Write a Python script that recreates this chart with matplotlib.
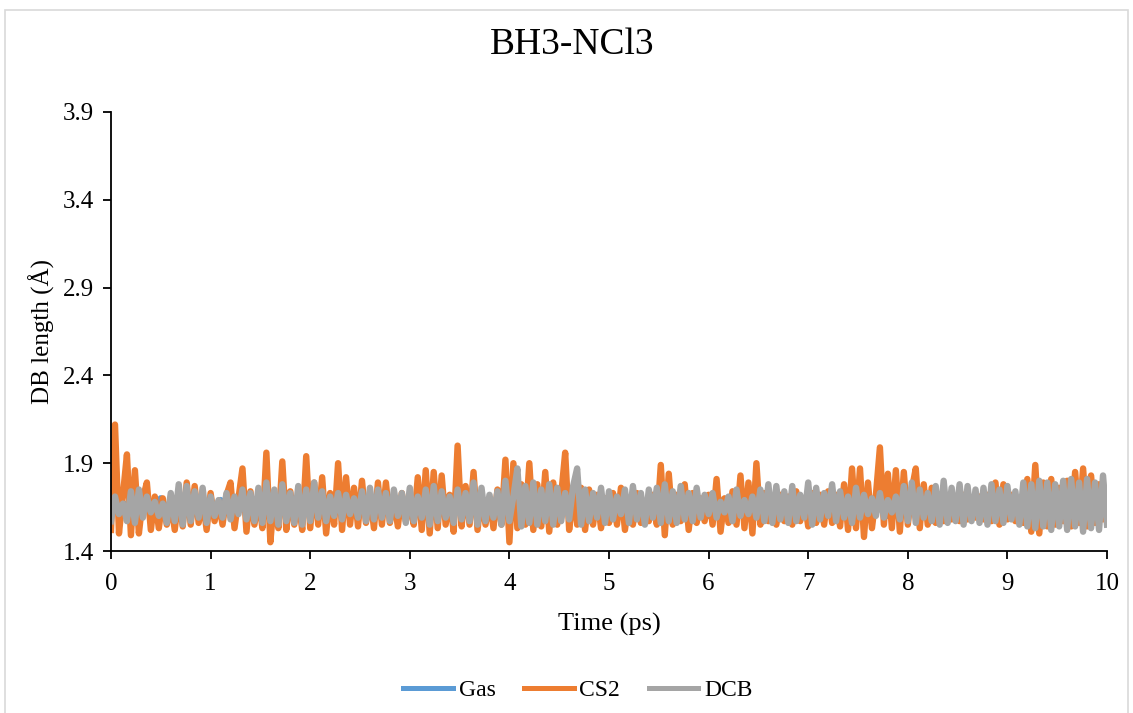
import numpy as np
import matplotlib
matplotlib.use("Agg")
import matplotlib.pyplot as plt
from matplotlib.patches import Rectangle
from matplotlib.lines import Line2D

plt.rcParams['font.family'] = ['Liberation Serif', 'DejaVu Serif']

title = "BH3-NCl3"
xlabel = "Time (ps)"
ylabel = "DB length (Å)"
series_names = ["Gas", "CS2", "DCB"]
series_colors = ["#5B9BD5", "#ED7D31", "#A5A5A5"]
xticks = [0, 1, 2, 3, 4, 5, 6, 7, 8, 9, 10]
yticks = [1.4, 1.9, 2.4, 2.9, 3.4, 3.9]

cs2 = [
    1.52, 2.12, 1.50, 1.72, 1.95, 1.49, 1.86, 1.50, 1.70, 1.79,
    1.52, 1.71, 1.53, 1.70, 1.55, 1.68, 1.52, 1.72, 1.54, 1.79,
    1.55, 1.77, 1.56, 1.70, 1.52, 1.73, 1.57, 1.68, 1.55, 1.72,
    1.79, 1.53, 1.70, 1.87, 1.51, 1.74, 1.55, 1.71, 1.53, 1.96,
    1.45, 1.72, 1.53, 1.91, 1.52, 1.74, 1.55, 1.70, 1.52, 1.94,
    1.53, 1.79, 1.55, 1.82, 1.50, 1.73, 1.55, 1.90, 1.52, 1.82,
    1.55, 1.76, 1.54, 1.80, 1.56, 1.72, 1.53, 1.79, 1.55, 1.79,
    1.56, 1.70, 1.54, 1.73, 1.57, 1.68, 1.55, 1.82, 1.52, 1.86,
    1.50, 1.85, 1.53, 1.83, 1.55, 1.72, 1.51, 2.00, 1.54, 1.77,
    1.55, 1.85, 1.52, 1.72, 1.55, 1.70, 1.53, 1.75, 1.55, 1.92,
    1.45, 1.90, 1.53, 1.78, 1.55, 1.90, 1.52, 1.78, 1.54, 1.85,
    1.51, 1.79, 1.55, 1.72, 1.96, 1.52, 1.74, 1.55, 1.76, 1.52,
    1.75, 1.55, 1.72, 1.53, 1.70, 1.56, 1.73, 1.55, 1.76, 1.52,
    1.70, 1.55, 1.73, 1.56, 1.68, 1.57, 1.72, 1.55, 1.89, 1.49,
    1.84, 1.55, 1.72, 1.57, 1.78, 1.52, 1.73, 1.56, 1.70, 1.57,
    1.72, 1.55, 1.81, 1.51, 1.70, 1.56, 1.74, 1.55, 1.83, 1.53,
    1.79, 1.50, 1.90, 1.55, 1.73, 1.57, 1.70, 1.55, 1.72, 1.57,
    1.71, 1.55, 1.74, 1.57, 1.70, 1.54, 1.73, 1.56, 1.72, 1.55,
    1.74, 1.56, 1.72, 1.54, 1.78, 1.52, 1.87, 1.53, 1.87, 1.48,
    1.79, 1.53, 1.72, 1.99, 1.55, 1.84, 1.53, 1.86, 1.51, 1.85,
    1.55, 1.75, 1.87, 1.53, 1.78, 1.55, 1.76, 1.56, 1.72, 1.57,
    1.71, 1.58, 1.70, 1.57, 1.72, 1.58, 1.70, 1.59, 1.71, 1.58,
    1.72, 1.57, 1.79, 1.55, 1.78, 1.58, 1.72, 1.57, 1.70, 1.56,
    1.81, 1.51, 1.89, 1.50, 1.79, 1.54, 1.81, 1.55, 1.76, 1.57,
    1.80, 1.54, 1.85, 1.56, 1.87, 1.54, 1.83, 1.56, 1.78, 1.58, 1.70,
]

dcb = [
    1.57, 1.71, 1.61, 1.67, 1.57, 1.74, 1.56, 1.75, 1.59, 1.71,
    1.62, 1.68, 1.60, 1.67, 1.56, 1.73, 1.57, 1.78, 1.55, 1.77,
    1.57, 1.74, 1.59, 1.76, 1.56, 1.71, 1.60, 1.69, 1.59, 1.73,
    1.58, 1.71, 1.61, 1.75, 1.58, 1.73, 1.57, 1.76, 1.56, 1.79,
    1.57, 1.75, 1.55, 1.78, 1.57, 1.73, 1.56, 1.77, 1.55, 1.75,
    1.57, 1.79, 1.59, 1.74, 1.57, 1.71, 1.60, 1.73, 1.58, 1.72,
    1.61, 1.70, 1.59, 1.74, 1.57, 1.76, 1.58, 1.75, 1.59, 1.73,
    1.57, 1.75, 1.60, 1.73, 1.56, 1.76, 1.57, 1.71, 1.59, 1.75,
    1.55, 1.77, 1.57, 1.74, 1.59, 1.71, 1.56, 1.75, 1.58, 1.73,
    1.57, 1.79, 1.55, 1.76, 1.57, 1.72, 1.59, 1.74, 1.55, 1.80,
    1.57, 1.71, 1.87, 1.54, 1.77, 1.56, 1.79, 1.55, 1.75, 1.57,
    1.78, 1.55, 1.76, 1.57, 1.73, 1.58, 1.77, 1.87, 1.55, 1.75,
    1.57, 1.73, 1.59, 1.76, 1.56, 1.74, 1.58, 1.71, 1.61, 1.75,
    1.56, 1.77, 1.58, 1.73, 1.55, 1.75, 1.59, 1.76, 1.56, 1.78,
    1.57, 1.74, 1.56, 1.77, 1.58, 1.73, 1.57, 1.76, 1.59, 1.72,
    1.61, 1.73, 1.59, 1.68, 1.62, 1.71, 1.57, 1.75, 1.60, 1.69,
    1.61, 1.71, 1.59, 1.75, 1.57, 1.78, 1.56, 1.77, 1.58, 1.74,
    1.56, 1.77, 1.57, 1.72, 1.59, 1.79, 1.55, 1.76, 1.58, 1.73,
    1.60, 1.78, 1.57, 1.74, 1.59, 1.71, 1.56, 1.76, 1.59, 1.72,
    1.61, 1.70, 1.60, 1.73, 1.59, 1.69, 1.62, 1.71, 1.58, 1.77,
    1.57, 1.79, 1.56, 1.75, 1.59, 1.73, 1.57, 1.77, 1.55, 1.80,
    1.56, 1.76, 1.57, 1.78, 1.55, 1.77, 1.57, 1.75, 1.56, 1.76,
    1.55, 1.78, 1.57, 1.75, 1.56, 1.77, 1.58, 1.74, 1.55, 1.79,
    1.54, 1.78, 1.53, 1.80, 1.54, 1.79, 1.52, 1.78, 1.54, 1.80,
    1.52, 1.81, 1.54, 1.79, 1.51, 1.81, 1.53, 1.79, 1.52, 1.83, 1.55,
]

gas = [
    1.60, 1.69, 1.61, 1.68, 1.62, 1.70, 1.60, 1.69, 1.61, 1.68,
    1.62, 1.69, 1.60, 1.70, 1.61, 1.68, 1.62, 1.69, 1.60, 1.70,
    1.61, 1.68, 1.62, 1.69, 1.60, 1.70, 1.61, 1.68, 1.62, 1.69,
    1.60, 1.70, 1.61, 1.68, 1.62, 1.69, 1.60, 1.70, 1.61, 1.68,
    1.62, 1.69, 1.60, 1.70, 1.61, 1.68, 1.62, 1.69, 1.60, 1.70,
    1.61, 1.68, 1.62, 1.69, 1.60, 1.70, 1.61, 1.68, 1.62, 1.69,
    1.60, 1.70, 1.61, 1.68, 1.62, 1.69, 1.60, 1.70, 1.61, 1.68,
    1.62, 1.69, 1.60, 1.70, 1.61, 1.68, 1.62, 1.69, 1.60, 1.70,
    1.61, 1.68, 1.62, 1.69, 1.60, 1.70, 1.61, 1.68, 1.62, 1.69,
    1.60, 1.70, 1.61, 1.68, 1.62, 1.69, 1.60, 1.70, 1.61, 1.68, 1.64,
]

t_main = np.linspace(0, 10, len(cs2))
t_gas = np.linspace(0, 10, len(gas))

W, H = 1133, 713
fig = plt.figure(figsize=(W / 100, H / 100), dpi=100)
fig.patches.append(Rectangle((5 / W, -0.05), (1128 - 5) / W, 1.05 - 10 / H,
                             transform=fig.transFigure, fill=False,
                             edgecolor="#D9D9D9", linewidth=1.2))

ax = fig.add_axes([111 / W, 1 - 551 / H, (1107 - 111) / W, (551 - 112) / H])
lw = 4.6
ax.plot(t_gas, gas, color=series_colors[0], lw=lw, solid_joinstyle="round")
ax.plot(t_main, cs2, color=series_colors[1], lw=lw, solid_joinstyle="round")
ax.plot(t_main, dcb, color=series_colors[2], lw=lw, solid_joinstyle="round")

ax.set_xlim(0, 10)
ax.set_ylim(1.4, 3.9)
ax.set_xticks(xticks)
ax.set_yticks(yticks)
ax.set_xticklabels([str(v) for v in xticks])
ax.set_yticklabels([f"{v:.1f}" for v in yticks])
ax.tick_params(axis="both", labelsize=18, length=6, width=1.3, direction="out",
               colors="black", pad=6)
ax.tick_params(axis="x", pad=10)
for s in ["top", "right"]:
    ax.spines[s].set_visible(False)
for s in ["left", "bottom"]:
    ax.spines[s].set_linewidth(1.3)
    ax.spines[s].set_color("black")

ax.set_xlabel(xlabel, fontsize=19, labelpad=13)
ax.set_ylabel(ylabel, fontsize=18, labelpad=6)
fig.text(0.505, 1 - 45 / H, title, ha="center", va="center", fontsize=27)

handles = [Line2D([0], [0], color=c, lw=3.6) for c in series_colors]
fig.legend(handles, series_names, loc="center", bbox_to_anchor=(0.51, 1 - 690 / H),
           ncol=3, frameon=False, fontsize=17, handlelength=2.1, columnspacing=1.2,
           handletextpad=0.25)

fig.savefig("out.png", dpi=100)
